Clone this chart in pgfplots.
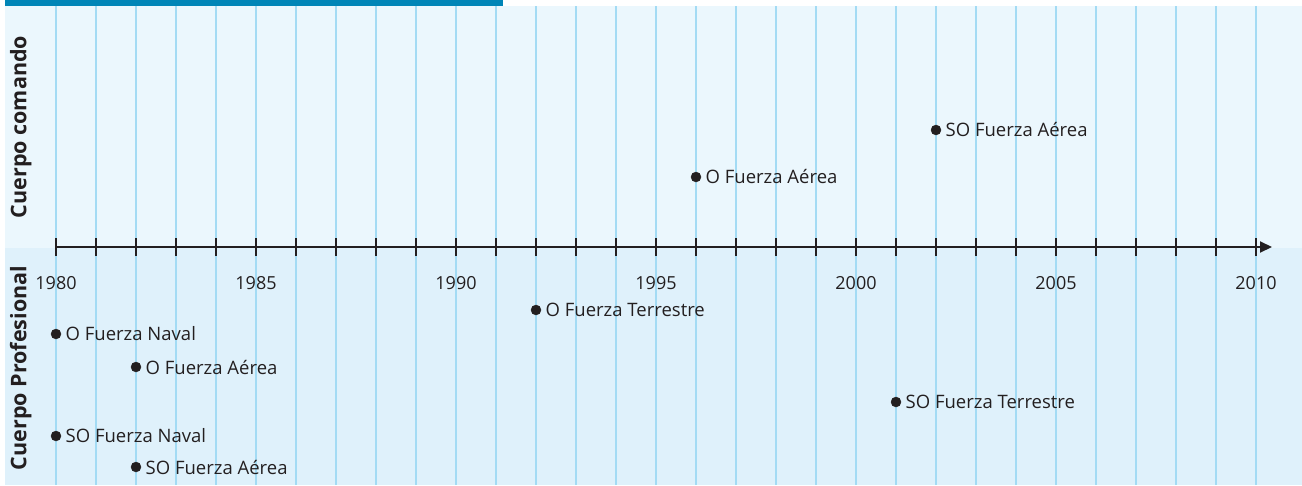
\documentclass[border=0pt]{standalone}
\usepackage{pgfplots}
\pgfplotsset{compat=1.18}
\usetikzlibrary{arrows.meta}
\usepackage{fontspec}
\setmainfont{Open Sans}
\definecolor{topbg}{HTML}{EBF7FD}
\definecolor{botbg}{HTML}{DFF1FB}
\definecolor{gridc}{HTML}{A3DBF4}
\definecolor{ink}{HTML}{231F20}
\definecolor{barc}{HTML}{0085B7}
\begin{document}
\begin{tikzpicture}[x=1pt,y=1pt]
\useasboundingbox (0,0) rectangle (1302,485);
\begin{axis}[at={(0,0)},anchor=south west,scale only axis,
  width=1302pt,height=485pt,
  xmin=1978.6,xmax=2011.15,ymin=0,ymax=485,y dir=reverse,
  hide axis,clip=false]
\fill[topbg] (axis cs:1978.725,6) rectangle (axis cs:2011.15,248);
\fill[botbg] (axis cs:1978.725,248) rectangle (axis cs:2011.15,485);
\fill[barc] (axis cs:1978.725,0) rectangle (axis cs:1991.175,6);
\pgfplotsinvokeforeach{1980,...,2010}{
  \draw[gridc,line width=1.4pt] (axis cs:#1,6) -- (axis cs:#1,485);
}
\draw[ink,line width=2pt,-{Triangle[length=12pt,width=11pt]}] (axis cs:1980,247) -- (axis cs:2010.4,247);
\pgfplotsinvokeforeach{1980,...,2010}{
  \draw[ink,line width=1.3pt] (axis cs:#1,238) -- (axis cs:#1,256);
}
\pgfplotsinvokeforeach{1980,1985,...,2010}{
  \node[ink,font=\fontsize{18}{20}\selectfont] at (axis cs:#1,283) {#1};
}
\addplot[only marks,mark=*,mark size=5pt,ink,
  point meta=explicit symbolic,nodes near coords,
  every node near coord/.append style={anchor=west,xshift=9.5pt,inner sep=0pt,
    text=ink,font=\fontsize{18.5}{20}\selectfont}]
  coordinates {
  (2002,130) [SO Fuerza Aérea]
  (1996,177) [O Fuerza Aérea]
  (1992,310) [O Fuerza Terrestre]
  (1980,334) [O Fuerza Naval]
  (1982,367) [O Fuerza Aérea]
  (2001,402) [SO Fuerza Terrestre]
  (1980,436) [SO Fuerza Naval]
  (1982,467) [SO Fuerza Aérea]
  };
\node[rotate=90,ink,font=\bfseries\fontsize{21.5}{22}\selectfont] at (axis cs:1979.12,127) {Cuerpo comando};
\node[rotate=90,ink,font=\bfseries\fontsize{21.5}{22}\selectfont] at (axis cs:1979.12,368) {Cuerpo Profesional};
\end{axis}
\end{tikzpicture}
\end{document}
